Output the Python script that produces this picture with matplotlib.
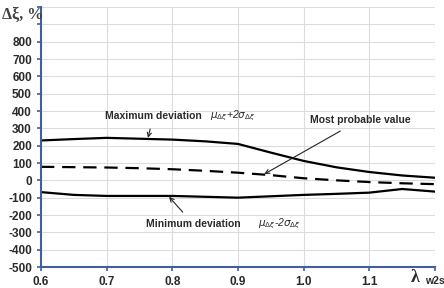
import numpy as np
import matplotlib.pyplot as plt

lam = [0.6, 0.65, 0.7, 0.75, 0.8, 0.85, 0.9, 0.95, 1.0, 1.05, 1.1, 1.15, 1.2]
max_dev = [230, 238, 245, 240, 235, 225, 210, 160, 112, 75, 48, 28, 15]
most_prob = [78, 76, 74, 70, 64, 55, 44, 30, 12, 0, -10, -17, -22]
min_dev = [-68, -84, -90, -90, -90, -95, -100, -92, -84, -78, -71, -50, -65]

xticks = [0.6, 0.7, 0.8, 0.9, 1.0, 1.1, 1.2]
yticks = list(range(-500, 1001, 100))

plt.rcParams['font.family'] = ['Liberation Sans', 'DejaVu Sans']
fig = plt.figure(figsize=(4.44, 2.88), dpi=100)
ax = fig.add_axes([41/444, 21/288, 394/444, 260/288])

blue = '#3f5f9f'
txt = '#2a2a2a'

ax.plot(lam, max_dev, color='black', lw=1.6)
ax.plot(lam, most_prob, color='black', lw=1.6, dashes=(6, 3.5))
ax.plot(lam, min_dev, color='black', lw=1.6)

ax.set_xlim(0.6, 1.2)
ax.set_ylim(-500, 1000)
ax.set_xticks(xticks)
ax.set_xticklabels(['0.6', '0.7', '0.8', '0.9', '1.0', '1.1', ''])
ax.set_yticks(yticks)
ax.set_yticklabels([str(v) if v <= 800 else '' for v in yticks])
ax.grid(True, color='#dcdcdc', lw=0.8)
ax.set_axisbelow(True)

for s in ['top', 'right']:
    ax.spines[s].set_visible(False)
for s in ['left', 'bottom']:
    ax.spines[s].set_color(blue)
    ax.spines[s].set_linewidth(1.5)
ax.tick_params(colors=blue, length=3, width=1.2, labelcolor=txt)
for lb in ax.get_xticklabels() + ax.get_yticklabels():
    lb.set_fontweight('bold')
    lb.set_fontsize(8.5)

# axis captions
fig.text(2/444, 1 - 15/288, 'Δξ, %', fontsize=11.5, color='#404040',
         family='Liberation Serif', fontweight='bold', va='center', ha='left')
fig.text(411/444, 11/288, 'λ', fontsize=13, color=txt, ha='left',
         va='center', family='Liberation Serif', fontweight='bold')
fig.text(425/444, 7/288, 'w2s', fontsize=7.5, fontweight='bold', color=txt,
         ha='left', va='center')

arrow = dict(arrowstyle='->', color='#222222', lw=0.8, shrinkA=4, shrinkB=0)
ax.annotate('Maximum deviation', xy=(0.763, 245), xytext=(0.771, 372),
            ha='center', va='center', fontsize=7.5, fontweight='bold',
            color=txt, arrowprops=arrow)
ax.text(0.858, 372, r'$\mu_{\Delta\xi}$+2$\sigma_{\Delta\xi}$', fontsize=7.5,
        color=txt, va='center', style='italic')
ax.annotate('Most probable value', xy=(0.94, 36), xytext=(1.086, 349),
            ha='center', va='center', fontsize=7.5, fontweight='bold',
            color=txt, arrowprops=dict(arrow, shrinkA=5))
ax.annotate('Minimum deviation', xy=(0.795, -95), xytext=(0.832, -252),
            ha='center', va='center', fontsize=7.5, fontweight='bold',
            color=txt, arrowprops=arrow)
ax.text(0.93, -252, r'$\mu_{\Delta\xi}$-2$\sigma_{\Delta\xi}$', fontsize=7.5,
        color=txt, va='center', style='italic')

fig.savefig('out.png', dpi=100)
